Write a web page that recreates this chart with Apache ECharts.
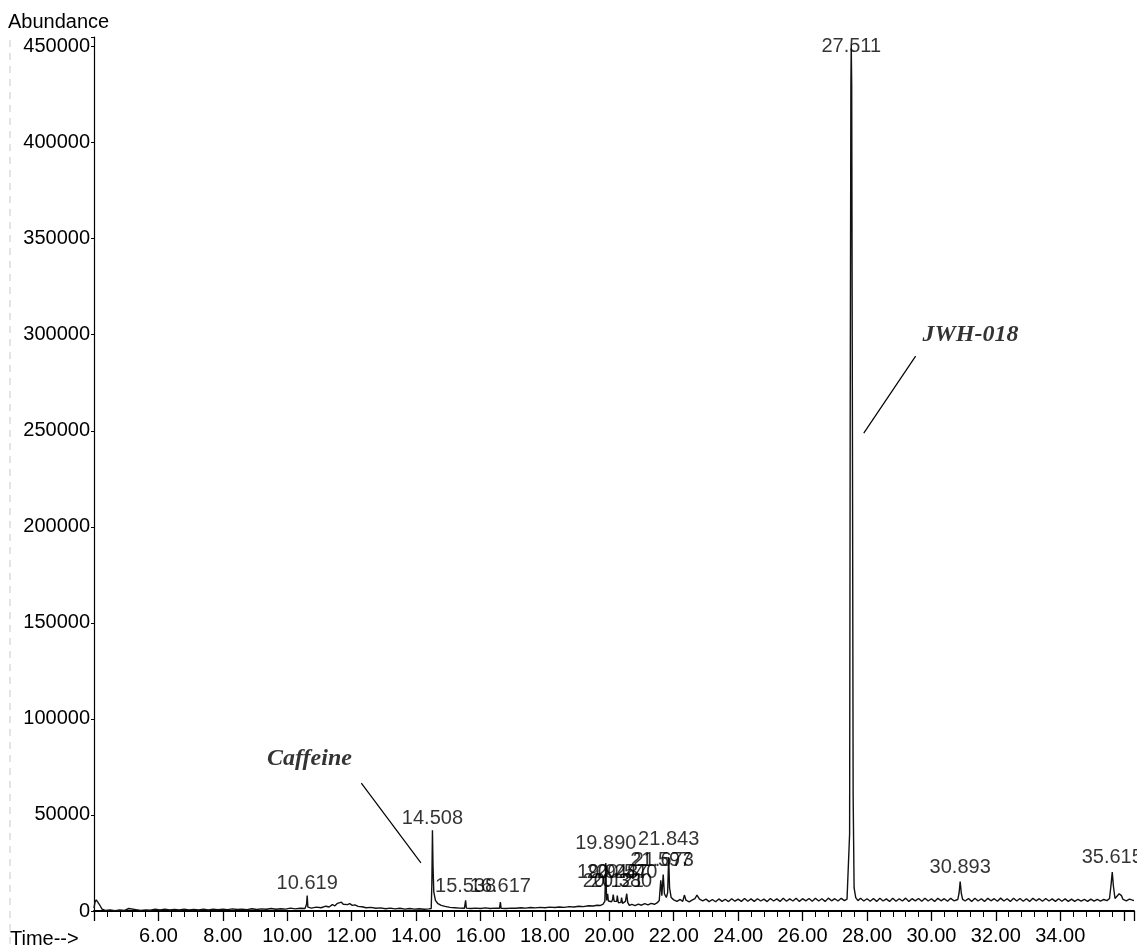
<!DOCTYPE html>
<html>
<head>
<meta charset="utf-8">
<script src="https://cdn.jsdelivr.net/npm/echarts@6/dist/echarts.min.js"></script>
<style>
  html, body { margin: 0; padding: 0; background: #fff; }
  #chart { width: 1137px; height: 949px; }
</style>
</head>
<body>
<div id="chart"></div>
<script>
// Total ion chromatogram: retention time (min) vs abundance.
// Trace vertices between the labelled apexes (baseline, shoulders, small unlabelled peaks).
const tracePoints = [
  [4.00,1500],[4.03,4600],[4.07,5800],[4.12,5200],[4.18,3000],[4.25,1000],[4.35,300],[4.5,600],
  [4.65,200],[4.8,500],[4.95,300],[5.08,1300],[5.13,400],[5.3,700],[5.45,300],[5.6,600],
  [5.75,400],[5.9,900],[6.05,500],[6.2,1000],[6.35,600],[6.5,800],[6.65,500],[6.8,900],
  [6.95,600],[7.1,800],[7.25,500],[7.4,1000],[7.55,600],[7.7,900],[7.85,700],[8.0,1000],
  [8.15,700],[8.3,1100],[8.45,800],[8.6,1000],[8.75,700],[8.9,1200],[9.05,800],[9.2,1100],
  [9.35,900],[9.5,1300],[9.65,900],[9.8,1200],[9.95,1000],[10.1,1500],[10.25,1100],[10.4,1400],
  [10.55,1300],[10.6,3500],[10.64,2000],[10.75,1500],[10.9,2000],[11.05,1700],[11.2,2500],
  [11.3,2100],[11.4,3300],[11.48,2700],[11.56,4000],[11.62,3200],[11.68,4600],[11.74,3500],
  [11.8,4300],[11.87,3300],[11.94,3800],[12.02,2900],[12.1,3200],[12.2,2400],[12.32,2200],
  [12.45,1700],[12.6,1900],[12.75,1400],[12.9,1600],[13.05,1200],[13.2,1500],[13.35,1100],
  [13.5,1400],[13.65,1000],[13.8,1300],[13.95,1000],[14.1,1200],[14.25,900],[14.4,1100],
  [14.47,1300],[14.49,14000],[14.525,24000],[14.55,10000],[14.6,5500],[14.68,3800],[14.78,2900],
  [14.9,2400],[15.05,1900],[15.2,1700],[15.35,1500],[15.5,1400],[15.52,1700],[15.56,1500],
  [15.7,1300],[15.85,1500],[16.0,1300],[16.15,1600],[16.3,1300],[16.45,1500],[16.59,1400],
  [16.64,1400],[16.8,1300],[16.95,1500],[17.1,1400],[17.25,1700],[17.4,1500],[17.55,1800],
  [17.7,1600],[17.85,1900],[18.0,1700],[18.15,2000],[18.3,1800],[18.45,2100],[18.6,1900],
  [18.75,2300],[18.9,2100],[19.05,2500],[19.2,2300],[19.35,2700],[19.5,2600],[19.62,3000],
  [19.72,2900],[19.8,3400],[19.86,5000],[19.915,5500],[19.93,6500],[19.97,5200],[20.02,4300],
  [20.07,4800],[20.1,6000],[20.15,5000],[20.2,4000],[20.23,5000],[20.28,4300],[20.33,3800],
  [20.36,4500],[20.41,4000],[20.46,3900],[20.5,5000],[20.57,4500],[20.62,2900],[20.7,3500],
  [20.8,2800],[20.9,3600],[21.0,3000],[21.1,3800],[21.2,3200],[21.3,4000],[21.4,3500],
  [21.48,4200],[21.55,5500],[21.63,8000],
  [21.71,9000],[21.77,7000],[21.81,9500],[21.87,12000],[21.92,7000],[22.0,5800],[22.1,5000],
  [22.2,6000],[22.28,5000],[22.33,8300],[22.38,5600],[22.48,4800],[22.58,5800],[22.66,6500],
  [22.72,8300],[22.8,6200],[22.9,5300],[23.0,6200],[23.1,4900],[23.2,6000],[23.3,4800],
  [23.4,6300],[23.5,5000],[23.6,6100],[23.7,4900],[23.8,6400],[23.9,5100],[24.0,6200],
  [24.1,5000],[24.2,6500],[24.3,5100],[24.4,6300],[24.5,5000],[24.6,6400],[24.7,5200],
  [24.8,6200],[24.9,4900],[25.0,6500],[25.1,5200],[25.2,6300],[25.3,5000],[25.4,6600],
  [25.5,5100],[25.6,6300],[25.7,5200],[25.8,6600],[25.9,5000],[26.0,6400],[26.1,5300],
  [26.2,6500],[26.3,5100],[26.4,6600],[26.5,5200],[26.6,6400],[26.7,5000],[26.8,6700],
  [26.9,5300],[27.0,6400],[27.1,5200],[27.2,6600],[27.3,5400],[27.38,6200],[27.42,7000],
  [27.46,40000],[27.478,250000],[27.50,430000],[27.525,430000],[27.548,250000],[27.57,60000],
  [27.6,12000],[27.65,7000],[27.72,5400],[27.8,6600],[27.9,5200],[28.0,6400],[28.1,5100],
  [28.2,6500],[28.3,5000],[28.4,6600],[28.5,5200],[28.6,6300],[28.7,5000],[28.8,6600],
  [28.9,5100],[29.0,6400],[29.1,5200],[29.2,6700],[29.3,5000],[29.4,6400],[29.5,5300],
  [29.6,6500],[29.7,5100],[29.8,6600],[29.9,5200],[30.0,6400],[30.1,5000],[30.2,6600],
  [30.3,5300],[30.4,6400],[30.5,5100],[30.6,6600],[30.7,5300],[30.82,6000],[30.86,9500],
  [30.93,9000],[30.97,6000],[31.05,5200],[31.15,6500],[31.25,5000],[31.35,6600],[31.45,5200],
  [31.55,6400],[31.65,5000],[31.75,6600],[31.85,5300],[31.95,6400],[32.05,5100],[32.15,6700],
  [32.25,5200],[32.35,6400],[32.45,5000],[32.55,6600],[32.65,5200],[32.75,6500],[32.85,5100],
  [32.95,6400],[33.05,5000],[33.15,6600],[33.25,5300],[33.35,6400],[33.45,5100],[33.55,6500],
  [33.65,5200],[33.75,6300],[33.85,5000],[33.95,6400],[34.05,5100],[34.15,6300],[34.25,5000],
  [34.35,6200],[34.45,5000],[34.55,6100],[34.65,5200],[34.75,6000],[34.85,5000],[34.95,6200],
  [35.05,5100],[35.15,6100],[35.25,5200],[35.35,6000],[35.45,5400],[35.53,6500],[35.58,14000],
  [35.65,13000],[35.7,6500],[35.76,6200],[35.83,9000],[35.86,10000],[35.9,8000],[35.95,6000],
  [36.05,5300],[36.15,6200],[36.29,5400]
];

// Integrated peaks: retention time label, apex abundance, and height of the label's base.
const peakTimes   = ['10.619','14.508','15.538','16.617','19.890','19.948','20.121','20.247','20.380','20.540','21.597','21.673','21.843','27.511','30.893','35.615'];
const peakHeights = [8000, 42000, 5500, 4700, 25000, 9000, 8500, 8000, 7000, 9000, 16000, 19000, 28000, 451000, 15300, 20300];
const peakLabelAt = [8900, 43200, 7300, 7300, 29700, 14600, 9900, 14600, 9900, 14600, 21300, 21300, 32000, 444600, 17200, 22900];

// Compound call-outs: text centre and leader line (time, abundance).
const compoundNames  = ['Caffeine', 'JWH-018'];
const compoundTextAt = [[10.69, 79100], [31.21, 299900]];
const compoundLeader = [[[12.30, 66600], [14.15, 25000]], [[29.51, 288900], [27.90, 248800]]];

// Axes
const timeMin = 4, timeMax = 36.29, timeStep = 2;
const abundanceMax = 455000, abundanceStep = 50000;

const LABEL_FONT = '"Liberation Sans Narrow", "Arial Narrow", "Liberation Sans", Arial, sans-serif';
const CALLOUT_FONT = '"Liberation Serif", "Times New Roman", serif';

const trace = tracePoints
  .concat(peakTimes.map((t, i) => [parseFloat(t), peakHeights[i]]))
  .sort((a, b) => a[0] - b[0]);

const chart = echarts.init(document.getElementById('chart'), null, { renderer: 'canvas' });

chart.setOption({
  animation: false,
  backgroundColor: '#ffffff',
  grid: { left: 94, right: 0, top: 37, bottom: 38, containLabel: false },
  xAxis: {
    type: 'value',
    min: timeMin,
    max: timeMax,
    interval: timeStep,
    axisLine: { show: true, lineStyle: { color: '#000', width: 2 } },
    axisTick: { show: true, inside: false, length: 10, lineStyle: { color: '#000', width: 1.3 } },
    minorTick: { show: true, splitNumber: 5, length: 6, lineStyle: { color: '#000', width: 1 } },
    splitLine: { show: false },
    axisLabel: {
      margin: 15,
      color: '#000',
      fontFamily: LABEL_FONT,
      fontSize: 20,
      formatter: v => (v >= 6 && v <= 34 && Math.abs(v / 2 - Math.round(v / 2)) < 1e-6) ? v.toFixed(2) : ''
    }
  },
  yAxis: {
    type: 'value',
    min: 0,
    max: abundanceMax,
    interval: abundanceStep,
    axisLine: { show: true, lineStyle: { color: '#000', width: 1.2 } },
    axisTick: { show: true, length: 3, lineStyle: { color: '#000' } },
    splitLine: { show: false },
    axisLabel: {
      margin: 4,
      color: '#000',
      fontFamily: LABEL_FONT,
      fontSize: 20,
      formatter: v => (v % abundanceStep === 0 && v <= 450000) ? String(v) : ''
    }
  },
  series: [
    {
      name: 'TIC',
      type: 'line',
      data: trace,
      showSymbol: false,
      symbol: 'none',
      silent: true,
      lineStyle: { color: '#111', width: 1.4 },
      z: 3
    },
    {
      name: 'Peak labels',
      type: 'scatter',
      symbolSize: 0,
      silent: true,
      data: peakTimes.map((t, i) => [parseFloat(t), peakLabelAt[i], t]),
      label: {
        show: true,
        position: 'top',
        distance: 0,
        color: '#000',
        fontFamily: LABEL_FONT,
        fontSize: 20,
        formatter: p => p.data[2]
      },
      z: 4
    },
    {
      name: 'Compounds',
      type: 'scatter',
      symbolSize: 0,
      silent: true,
      data: compoundNames.map((n, i) => ({ name: n, value: compoundTextAt[i] })),
      label: {
        show: true,
        position: 'inside',
        color: '#000',
        fontFamily: CALLOUT_FONT,
        fontStyle: 'italic',
        fontWeight: 'bold',
        fontSize: 24,
        formatter: p => p.name
      },
      markLine: {
        silent: true,
        symbol: 'none',
        animation: false,
        label: { show: false },
        lineStyle: { color: '#000', width: 1.2, type: 'solid' },
        data: compoundLeader.map(seg => [{ coord: seg[0] }, { coord: seg[1] }])
      },
      z: 4
    }
  ],
  graphic: [
    {
      type: 'text', left: 8, top: 12,
      style: { text: 'Abundance', fill: '#000', font: '20px ' + LABEL_FONT }
    },
    {
      type: 'text', left: 10, top: 929,
      style: { text: 'Time-->', fill: '#000', font: '20px ' + LABEL_FONT }
    },
    {
      type: 'line',
      shape: { x1: 10, y1: 40, x2: 10, y2: 949 },
      style: { stroke: '#c8c8c8', lineWidth: 1, lineDash: [7, 6] },
      silent: true
    }
  ]
});
</script>
</body>
</html>
